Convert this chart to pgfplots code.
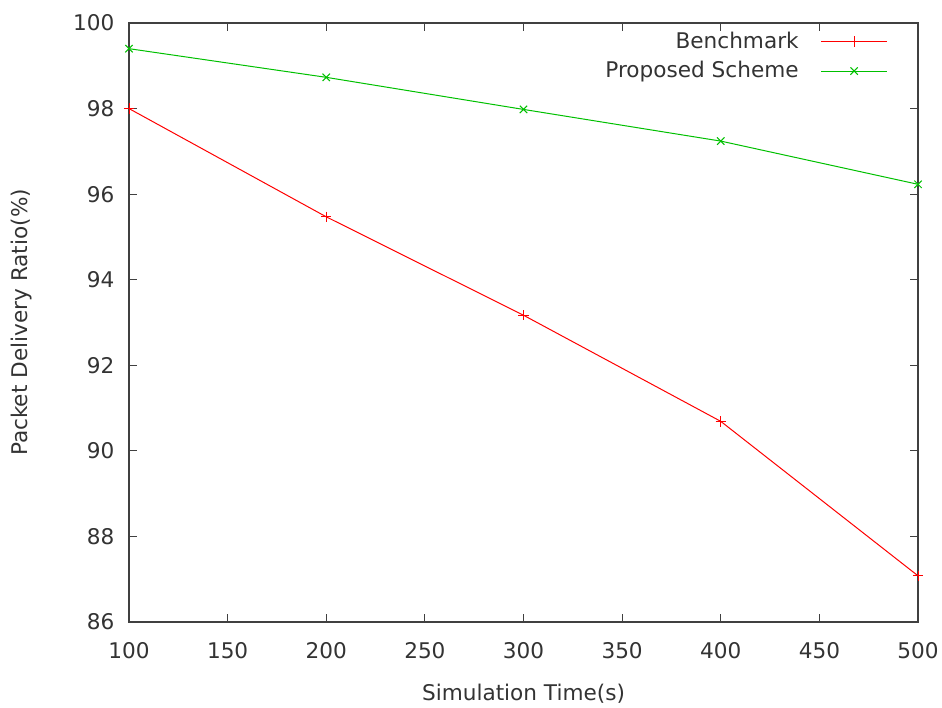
\documentclass[border=0pt]{standalone}
\usepackage{fontspec}
\setmainfont{DejaVu Sans}
\usepackage{pgfplots}
\pgfplotsset{compat=1.18}
\definecolor{gpred}{RGB}{255,0,0}
\definecolor{gpgreen}{RGB}{0,192,0}
\definecolor{frame}{RGB}{64,64,64}
\newcommand{\gpfont}{\fontsize{10.8pt}{12.5pt}\selectfont}
\begin{document}
\gpfont
\begin{tikzpicture}
\begin{axis}[
    scale only axis,
    width=394.5pt, height=299.5pt,
    xmin=100, xmax=500, ymin=86, ymax=100,
    xtick={100,150,...,500},
    ytick={86,88,...,100},
    tick align=inside,
    major tick length=4pt,
    axis line style={frame, line width=0.6pt},
    every tick/.style={frame, line width=0.6pt},
    /pgf/number format/assume math mode=true,
    ticklabel style={font=\gpfont, text=black!80},
    xticklabel style={yshift=-6.5pt},
    yticklabel style={xshift=-3.5pt},
    xlabel={Simulation Time(s)},
    ylabel={Packet Delivery Ratio(\%)},
    label style={font=\gpfont, text=black!80},
    xlabel style={yshift=-5pt},
    ylabel style={yshift=13pt},
    legend plot pos=right,
    legend cell align=right,
    legend style={draw=none, fill=none, at={(0.962,0.993)}, anchor=north east,
        font=\gpfont, text=black!80, inner sep=0pt,
        row sep=1pt,
        /tikz/every odd column/.append style={column sep=9pt}},
    legend image code/.code={
        \draw[#1, mark repeat=2, mark phase=2] plot coordinates {(0pt,0pt) (16.5pt,0pt) (33pt,0pt)};
    },
]
\addplot[gpred, line width=0.5pt, mark=+, mark size=2.6pt] coordinates {
    (100,98.0) (200,95.47) (300,93.17) (400,90.69) (500,87.08)
};
\addlegendentry{Benchmark}
\addplot[gpgreen, line width=0.5pt, mark=x, mark size=2.6pt] coordinates {
    (100,99.4) (200,98.73) (300,97.98) (400,97.24) (500,96.23)
};
\addlegendentry{Proposed Scheme}
\end{axis}
\pgfresetboundingbox
\path ([xshift=-64.5pt, yshift=-42.5pt]current axis.south west)
    rectangle ([xshift=12pt, yshift=11.5pt]current axis.north east);
\end{tikzpicture}
\end{document}
